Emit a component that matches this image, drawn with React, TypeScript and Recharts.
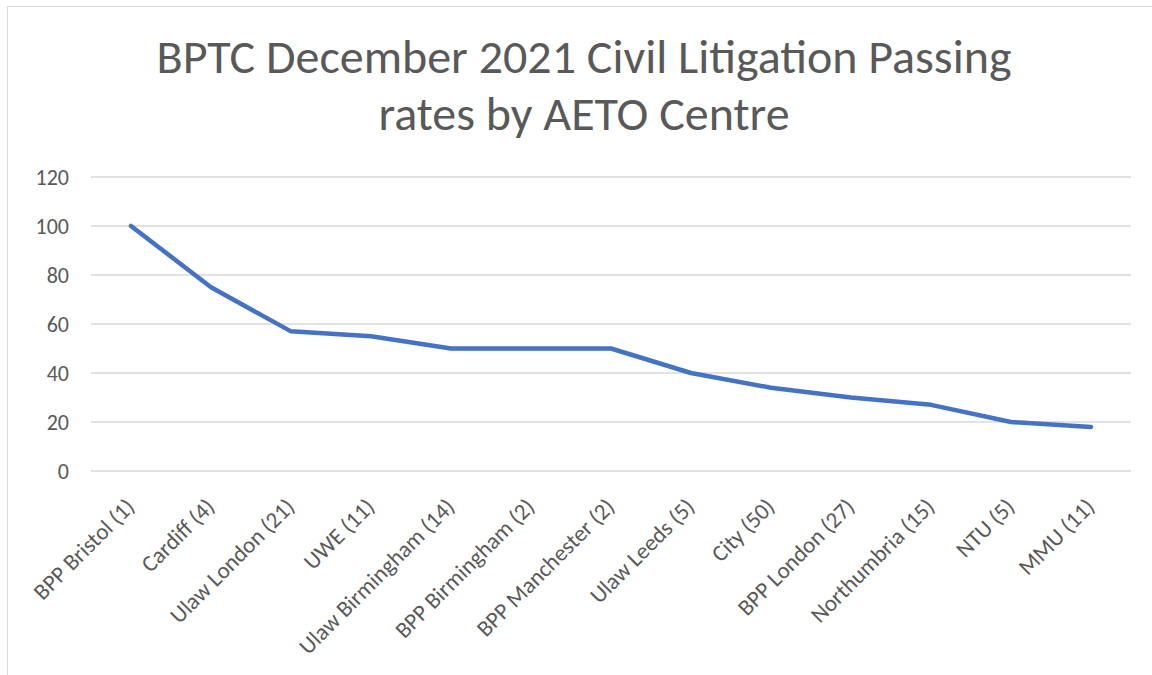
import React from "react";
import { LineChart, Line, XAxis, YAxis, CartesianGrid } from "recharts";

const categories = [
  "BPP Bristol (1)",
  "Cardiff (4)",
  "Ulaw London (21)",
  "UWE (11)",
  "Ulaw Birmingham (14)",
  "BPP Birmingham (2)",
  "BPP Manchester (2)",
  "Ulaw Leeds (5)",
  "City (50)",
  "BPP London (27)",
  "Northumbria (15)",
  "NTU (5)",
  "MMU (11)",
];
const passRates = [100, 75, 57, 55, 50, 50, 50, 40, 34, 30, 27, 20, 18];
const yTicks = [0, 20, 40, 60, 80, 100, 120];
const titleLines = ["BPTC December 2021 Civil Litigation Passing", "rates by AETO Centre"];

const data = categories.map((name, i) => ({ name, value: passRates[i] }));

const FONT = "Carlito, Calibri, Lato, sans-serif";

const XTick = (props: any) => {
  const { x, y, payload } = props;
  const tx = x + 5;
  const ty = y + 29;
  return (
    <text
      x={tx}
      y={ty}
      transform={`rotate(-45 ${tx} ${ty})`}
      textAnchor="end"
      fill="#595959"
      fontSize={23}
      fontFamily={FONT}
    >
      {payload.value}
    </text>
  );
};

export default function App() {
  return (
    <div
      style={{
        position: "absolute",
        left: 0,
        top: 0,
        width: 1152,
        height: 675,
        overflow: "hidden",
        background: "#ffffff",
      }}
    >
      <div
        style={{
          position: "absolute",
          left: 7,
          top: 6,
          width: 1200,
          height: 720,
          border: "1px solid #d9d9d9",
        }}
      />
      <div
        style={{
          position: "absolute",
          left: 0,
          top: 28,
          width: 1168,
          textAlign: "center",
          fontFamily: FONT,
          fontSize: 48,
          lineHeight: "57px",
          color: "#595959",
        }}
      >
        {titleLines.map((t) => (
          <div key={t}>{t}</div>
        ))}
      </div>
      <div style={{ position: "absolute", left: 0, top: 0 }}>
        <LineChart
          width={1152}
          height={675}
          data={data}
          margin={{ top: 177, right: 21, bottom: 0, left: 0 }}
        >
          <CartesianGrid vertical={false} stroke="#d9d9d9" strokeWidth={1.5} />
          <XAxis
            dataKey="name"
            interval={0}
            axisLine={false}
            tickLine={false}
            height={204}
            padding={{ left: 40, right: 40 }}
            tick={<XTick />}
          />
          <YAxis
            domain={[0, 120]}
            ticks={yTicks}
            width={91}
            axisLine={false}
            tickLine={false}
            tickMargin={16}
            tick={{ fill: "#595959", fontSize: 22, fontFamily: FONT }}
          />
          <Line
            type="linear"
            dataKey="value"
            stroke="#4472C4"
            strokeWidth={4.5}
            dot={false}
            strokeLinejoin="round"
            strokeLinecap="round"
            isAnimationActive={false}
          />
        </LineChart>
      </div>
    </div>
  );
}
